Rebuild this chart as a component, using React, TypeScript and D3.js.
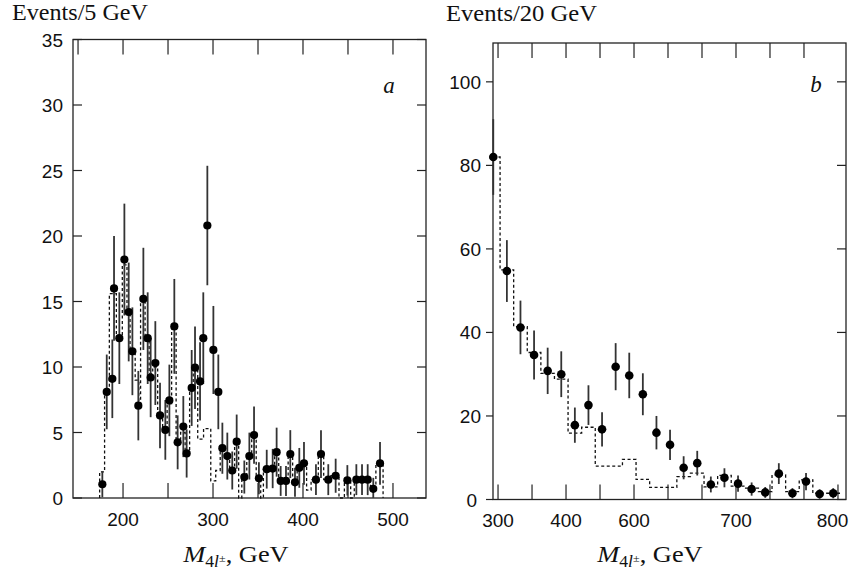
import React from "react";
import * as d3 from "d3";

// ---------- Panel a data (Events / 5 GeV) ----------
const A_MASS = [177, 181.9, 188.1, 190, 195.9, 201.5, 206.3, 210.4, 217, 222.6, 227.4, 230.7, 235.9, 241.1, 247, 251.5, 257, 260.7, 267, 270.7, 276.3, 280, 285.6, 289.2, 293.7, 300.4, 305.9, 310.4, 315.9, 321.4, 326.3, 334.8, 340.4, 345.6, 351, 359.7, 366.3, 370.7, 375.2, 381.1, 385.9, 391.1, 395.9, 401.1, 414.4, 420, 428.1, 436.3, 449.3, 459.3, 465.6, 471.9, 478.1, 485.6];
const A_EVENTS = [1.05, 8.1, 9.1, 16.0, 12.2, 18.2, 14.2, 11.2, 7.05, 15.2, 12.2, 9.2, 10.3, 6.3, 5.2, 7.45, 13.1, 4.25, 5.45, 3.4, 8.4, 9.95, 8.9, 12.2, 20.8, 11.3, 8.1, 3.8, 3.2, 2.1, 4.3, 1.6, 3.2, 4.8, 1.5, 2.2, 2.25, 3.5, 1.3, 1.3, 3.35, 1.2, 2.3, 2.65, 1.4, 3.35, 1.4, 1.7, 1.35, 1.4, 1.4, 1.4, 0.7, 2.65];
const A_ERR = [1.0, 2.85, 3.0, 4.0, 3.5, 4.27, 3.77, 3.35, 2.65, 3.9, 3.5, 3.03, 3.2, 2.5, 2.28, 2.73, 3.62, 2.06, 2.33, 1.84, 2.9, 3.15, 2.98, 3.5, 4.56, 3.36, 2.85, 1.95, 1.79, 1.45, 2.07, 1.26, 1.79, 2.19, 1.22, 1.48, 1.5, 1.87, 1.14, 1.14, 1.83, 1.1, 1.52, 1.63, 1.18, 1.83, 1.18, 1.3, 1.16, 1.18, 1.18, 1.18, 0.84, 1.63];
const A_HIST_EDGES = [174, 179.5, 184.8, 192.6, 199.2, 204.4, 207.8, 213.5, 217.5, 219.5, 224.5, 229, 233, 238.5, 244, 249, 254, 259, 264, 269, 274, 278, 283, 289.5, 297.5, 303, 308, 313, 318.5, 324, 328.5, 332, 337.5, 343, 348, 353, 356, 363, 368.5, 373, 378, 383.5, 388.5, 393.5, 398.5, 404, 409, 417, 423, 431, 440, 446, 453, 457, 462, 468, 475, 481, 489];
const A_HIST = [2.0, 8.0, 15.6, 12.4, 17.8, 14.0, 11.0, 9.0, 7.0, 15.1, 12.0, 9.5, 10.0, 6.2, 5.4, 7.2, 13.0, 4.5, 5.0, 3.5, 8.3, 10.0, 4.5, 5.3, 1.3, 2.1, 3.8, 3.2, 2.0, 4.3, 0, 1.5, 3.2, 4.6, 1.5, 0, 2.2, 2.2, 3.5, 1.3, 1.3, 3.3, 1.2, 2.3, 2.6, 0.6, 1.4, 3.3, 1.4, 1.7, 0, 1.3, 0, 1.4, 1.4, 1.4, 0.6, 2.6];
const A_YTICKS = [0, 5, 10, 15, 20, 25, 30, 35];
const A_XTICKS_TOP = [150, 200, 250, 300, 350, 400, 450, 500];
const A_XTICKS_BOTTOM = [200, 250, 300, 350, 400, 450, 500];
const A_XLABELS = [200, 300, 400, 500];

// ---------- Panel b data (Events / 20 GeV) ----------
const B_MASS = [293, 313, 333, 353, 373, 393, 413, 433, 453, 473, 493, 513, 533, 553, 573, 593, 613, 633, 653, 673, 693, 713, 733, 753, 773, 793];
const B_EVENTS = [82.0, 54.7, 41.2, 34.6, 30.8, 30.0, 17.8, 22.6, 16.8, 31.8, 29.7, 25.2, 16.0, 13.1, 7.6, 8.7, 3.6, 5.2, 3.8, 2.5, 1.7, 6.2, 1.5, 4.3, 1.3, 1.5];
const B_ERR = [9.06, 7.4, 6.42, 5.88, 5.55, 5.48, 4.22, 4.75, 4.1, 5.64, 5.45, 5.02, 4.0, 3.62, 2.76, 2.95, 1.9, 2.28, 1.95, 1.58, 1.3, 2.49, 1.22, 2.07, 1.14, 1.22];
const B_HIST_EDGES = [283, 303, 323, 343, 363, 383, 403, 423, 443, 463, 483, 503, 523, 543, 563, 583, 603, 623, 643, 663, 683, 703, 723, 743, 763, 783, 803];
const B_HIST = [82, 55, 41.4, 35.2, 30.2, 28.8, 15.9, 17.3, 8.0, 8.0, 9.6, 4.8, 2.9, 2.9, 5.5, 6.3, 3.0, 5.8, 3.2, 2.7, 1.9, 5.9, 1.9, 4.7, 1.5, 1.5];
const B_YTICKS = [0, 20, 40, 60, 80, 100];
const B_XTICKS_TOP = [300, 350, 400, 450, 500, 550, 600, 650, 700, 750];
const B_XTICKS_BOTTOM = [300, 350, 400, 450, 500, 550, 600, 650, 700, 750, 800];
const B_XLABEL_POS = [300, 400, 500, 650, 792];
const B_XLABEL_TEXT = ["300", "400", "600", "700", "800"];

const SANS = "'Liberation Sans', Arial, sans-serif";
const SERIF = "'Liberation Serif', 'Times New Roman', serif";
const AXIS = "#222";
const BAR = "#333";

function histPath(edges: number[], vals: number[], x: any, y: any, dom: number[], fromZero: boolean, toZero: boolean) {
  const p = d3.path();
  const x0 = x(Math.max(edges[0], dom[0]));
  if (fromZero) {
    p.moveTo(x0, y(0));
    p.lineTo(x0, y(vals[0]));
  } else {
    p.moveTo(x0, y(vals[0]));
  }
  for (let i = 0; i < vals.length; i++) {
    if (i > 0) p.lineTo(x(edges[i]), y(vals[i]));
    p.lineTo(x(edges[i + 1]), y(vals[i]));
  }
  if (toZero) p.lineTo(x(edges[edges.length - 1]), y(0));
  return p.toString();
}

function AxisTitle({ cx }: { cx: number }) {
  return (
    <g transform={`translate(${cx},0) scale(1.1,1)`}>
      <text x={0} y={562} textAnchor="middle" fontFamily={SERIF} fontSize={24} fill="#111">
        <tspan fontStyle="italic">M</tspan>
        <tspan fontSize={16} dy={5}>4</tspan>
        <tspan fontSize={16} fontStyle="italic">l</tspan>
        <tspan fontSize={11} dy={-5}>±</tspan>
        <tspan dy={0}>, GeV</tspan>
      </text>
    </g>
  );
}

export default function App() {
  // Panel a scales
  const axL = 73, axR = 426, ayT = 39.5, ayB = 498;
  const xa = d3.scaleLinear().domain([144.4, 536.7]).range([axL, axR]);
  const ya = d3.scaleLinear().domain([0, 35]).range([ayB, ayT]);
  // Panel b scales
  const bxL = 493, bxR = 846, byT = 43, byB = 499.5;
  const xbDom = [292.6, 811.8];
  const xb = d3.scaleLinear().domain(xbDom).range([bxL, bxR]);
  const yb = d3.scaleLinear().domain([0, 109.3]).range([byB, byT]);

  const aHist = histPath(A_HIST_EDGES, A_HIST, xa, ya, xa.domain(), true, true);
  const bHist = histPath(B_HIST_EDGES, B_HIST, xb, yb, xbDom, false, false);

  return (
    <svg width={858} height={573} style={{ position: "absolute", left: 0, top: 0, background: "#fff" }}>
      <rect x={0} y={0} width={858} height={573} fill="#fff" />
      {/* ---------------- Panel a ---------------- */}
      <text x={12} y={20} fontFamily={SERIF} fontSize={23} textLength={136} lengthAdjust="spacingAndGlyphs" fill="#111">Events/5 GeV</text>
      <rect x={axL} y={ayT} width={axR - axL} height={ayB - ayT} fill="none" stroke={AXIS} strokeWidth={1.3} />
      {A_XTICKS_TOP.map((t) => (
        <line key={"at" + t} x1={xa(t)} x2={xa(t)} y1={ayT} y2={ayT + 15} stroke={AXIS} strokeWidth={1.2} />
      ))}
      {A_XTICKS_BOTTOM.map((t) => (
        <line key={"ab" + t} x1={xa(t)} x2={xa(t)} y1={ayB} y2={ayB - 15} stroke={AXIS} strokeWidth={1.2} />
      ))}
      {A_YTICKS.map((t) => (
        <g key={"ay" + t}>
          <line x1={axL} x2={axL + 9} y1={ya(t)} y2={ya(t)} stroke={AXIS} strokeWidth={1.2} />
          <line x1={axR} x2={axR - 9} y1={ya(t)} y2={ya(t)} stroke={AXIS} strokeWidth={1.2} />
          <text x={63} y={ya(t) + 7} textAnchor="end" fontFamily={SANS} fontSize={19} fill="#111">{t}</text>
        </g>
      ))}
      {A_XLABELS.map((t) => (
        <text key={"axl" + t} x={xa(t)} y={526} textAnchor="middle" fontFamily={SANS} fontSize={19} fill="#111">{t}</text>
      ))}
      <path d={aHist} fill="none" stroke="#111" strokeWidth={1.3} strokeDasharray="3,2.5" />
      {A_MASS.map((m, i) => (
        <line key={"ae" + i} x1={xa(m)} x2={xa(m)} y1={ya(Math.max(0, A_EVENTS[i] - A_ERR[i]))} y2={ya(A_EVENTS[i] + A_ERR[i])} stroke={BAR} strokeWidth={1.8} />
      ))}
      {A_MASS.map((m, i) => (
        <circle key={"ap" + i} cx={xa(m)} cy={ya(A_EVENTS[i])} r={4.1} fill="#000" />
      ))}
      <text x={389} y={93} textAnchor="middle" fontFamily={SERIF} fontStyle="italic" fontSize={23} fill="#111">a</text>
      <AxisTitle cx={236} />

      {/* ---------------- Panel b ---------------- */}
      <text x={446} y={21} fontFamily={SERIF} fontSize={23} textLength={151} lengthAdjust="spacingAndGlyphs" fill="#111">Events/20 GeV</text>
      <rect x={bxL} y={byT} width={bxR - bxL} height={byB - byT} fill="none" stroke={AXIS} strokeWidth={1.3} />
      {B_XTICKS_TOP.map((t) => (
        <line key={"bt" + t} x1={xb(t)} x2={xb(t)} y1={byT} y2={byT + 15} stroke={AXIS} strokeWidth={1.2} />
      ))}
      {B_XTICKS_BOTTOM.map((t) => (
        <line key={"bb" + t} x1={xb(t)} x2={xb(t)} y1={byB} y2={byB - 15} stroke={AXIS} strokeWidth={1.2} />
      ))}
      {B_YTICKS.map((t) => (
        <g key={"by" + t}>
          <line x1={bxL} x2={bxL - 7} y1={yb(t)} y2={yb(t)} stroke={AXIS} strokeWidth={1.2} />
          <line x1={bxR} x2={bxR - 9} y1={yb(t)} y2={yb(t)} stroke={AXIS} strokeWidth={1.2} />
          <text x={t === 0 ? 477 : 481} y={yb(t) + 7} textAnchor="end" fontFamily={SANS} fontSize={19} fill="#111">{t}</text>
        </g>
      ))}
      {B_XLABEL_POS.map((t, i) => (
        <text key={"bxl" + i} x={xb(t)} y={527} textAnchor="middle" fontFamily={SANS} fontSize={19} fill="#111">{B_XLABEL_TEXT[i]}</text>
      ))}
      <path d={bHist} fill="none" stroke="#111" strokeWidth={1.3} strokeDasharray="3,2.5" />
      {B_MASS.map((m, i) => (
        <line key={"be" + i} x1={xb(m)} x2={xb(m)} y1={yb(Math.max(0, B_EVENTS[i] - B_ERR[i]))} y2={yb(B_EVENTS[i] + B_ERR[i])} stroke={BAR} strokeWidth={1.8} />
      ))}
      {B_MASS.map((m, i) => (
        <circle key={"bp" + i} cx={xb(m)} cy={yb(B_EVENTS[i])} r={4.3} fill="#000" />
      ))}
      <text x={816} y={92} textAnchor="middle" fontFamily={SERIF} fontStyle="italic" fontSize={23} fill="#111">b</text>
      <AxisTitle cx={650} />
    </svg>
  );
}
